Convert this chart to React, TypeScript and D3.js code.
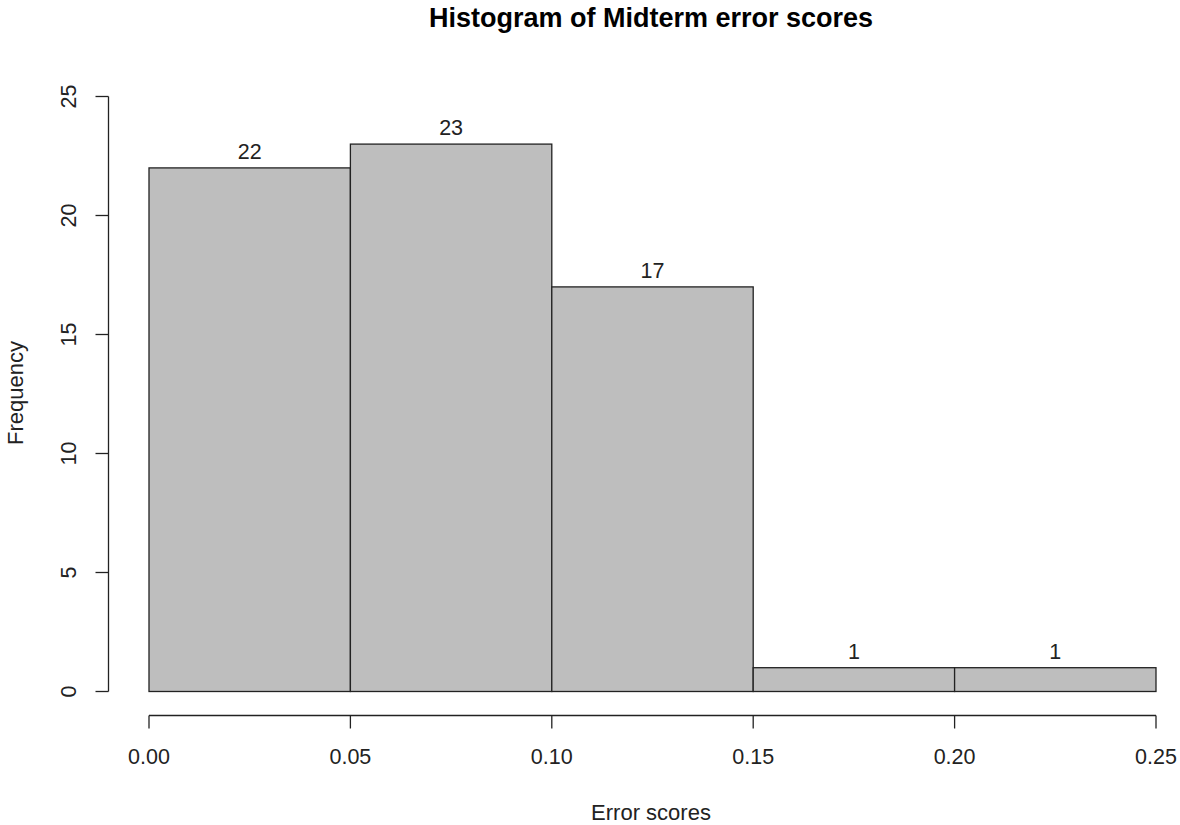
import React from "react";
import * as d3 from "d3";

const binStarts = [0.0, 0.05, 0.1, 0.15, 0.2];
const binWidth = 0.05;
const counts = [22, 23, 17, 1, 1];
const xTicks = [0.0, 0.05, 0.1, 0.15, 0.2, 0.25];
const yTicks = [0, 5, 10, 15, 20, 25];

const W = 1180;
const H = 825;
const FONT = "'Liberation Sans', Arial, sans-serif";

export default function App() {
  const x = d3.scaleLinear().domain([0, 0.25]).range([149, 1156]);
  const y = d3.scaleLinear().domain([0, 25]).range([691.5, 96.5]);
  const axisX = 108.5;
  const axisY = 715.5;
  const stroke = "#222";

  return (
    <svg
      width={W}
      height={H}
      style={{ position: "absolute", left: 0, top: 0, background: "#fff" }}
      fontFamily={FONT}
    >
      <text x={651} y={27} textAnchor="middle" fontSize={27} fontWeight="bold" fill="#000">
        Histogram of Midterm error scores
      </text>

      {binStarts.map((b, i) => (
        <g key={i}>
          <rect
            x={x(b)}
            y={y(counts[i])}
            width={x(b + binWidth) - x(b)}
            height={y(0) - y(counts[i])}
            fill="#BEBEBE"
            stroke={stroke}
            strokeWidth={1.3}
          />
          <text
            x={x(b + binWidth / 2)}
            y={y(counts[i]) - 9}
            textAnchor="middle"
            fontSize={21.5}
            fill="#222"
          >
            {counts[i]}
          </text>
        </g>
      ))}

      {/* y axis */}
      <line x1={axisX} x2={axisX} y1={y(0)} y2={y(25)} stroke={stroke} strokeWidth={1.3} />
      {yTicks.map((t) => (
        <g key={t}>
          <line x1={axisX - 13} x2={axisX} y1={y(t)} y2={y(t)} stroke={stroke} strokeWidth={1.3} />
          <text
            transform={`translate(${76},${y(t)}) rotate(-90)`}
            textAnchor="middle"
            fontSize={21.5}
            fill="#222"
          >
            {t}
          </text>
        </g>
      ))}

      {/* x axis */}
      <line x1={x(0)} x2={x(0.25)} y1={axisY} y2={axisY} stroke={stroke} strokeWidth={1.3} />
      {xTicks.map((t) => (
        <g key={t}>
          <line x1={x(t)} x2={x(t)} y1={axisY} y2={axisY + 13} stroke={stroke} strokeWidth={1.3} />
          <text x={x(t)} y={764} textAnchor="middle" fontSize={21.5} fill="#222">
            {t.toFixed(2)}
          </text>
        </g>
      ))}

      <text x={651} y={820} textAnchor="middle" fontSize={22} fill="#222">
        Error scores
      </text>
      <text
        transform={`translate(23,393) rotate(-90)`}
        textAnchor="middle"
        fontSize={22}
        fill="#222"
      >
        Frequency
      </text>
    </svg>
  );
}
